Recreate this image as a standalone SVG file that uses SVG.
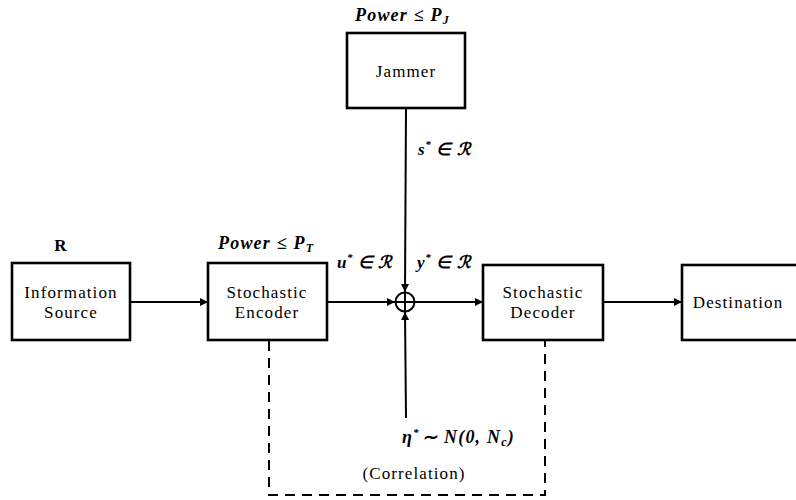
<svg xmlns="http://www.w3.org/2000/svg" width="796" height="500" viewBox="0 0 796 500">
<style>
.box{fill:#fff;stroke:#000;stroke-width:2.6}
.lbl{font-family:"Liberation Serif","Times New Roman",serif;font-size:17px;letter-spacing:1.1px;fill:#000;text-anchor:middle}
.math{font-family:"Liberation Serif","Times New Roman",serif;font-style:italic;font-weight:bold;font-size:18px;letter-spacing:1.2px;fill:#000}
.sym{font-size:17px;letter-spacing:0.6px}
.ln{stroke:#000;stroke-width:2;fill:none}
.dash{stroke:#000;stroke-width:2;fill:none;stroke-dasharray:10 7}
</style>
<defs>
<marker id="ah" viewBox="0 0 10 10" refX="10" refY="5" markerWidth="10" markerHeight="8" markerUnits="userSpaceOnUse" orient="auto">
<path d="M0,0 L10,5 L0,10 z" fill="#000"/>
</marker>
</defs>
<rect width="796" height="500" fill="#fff"/>
<g id="connectors">
<line class="ln" x1="130" y1="302" x2="208" y2="302" marker-end="url(#ah)"/>
<line class="ln" x1="327" y1="302" x2="395" y2="302" marker-end="url(#ah)"/>
<line class="ln" x1="415" y1="302" x2="483" y2="302" marker-end="url(#ah)"/>
<line class="ln" x1="603" y1="302" x2="682" y2="302" marker-end="url(#ah)"/>
<line class="ln" x1="406" y1="108" x2="405" y2="292" marker-end="url(#ah)"/>
<line class="ln" x1="406" y1="418" x2="405" y2="312" marker-end="url(#ah)"/>
<polyline class="dash" points="269,341 269,495 545,495 545,341"/>
</g>
<g id="sum">
<circle cx="405" cy="302" r="9.5" fill="#fff" stroke="#000" stroke-width="2"/>
<line class="ln" x1="395.5" y1="302" x2="414.5" y2="302"/>
<line class="ln" x1="405" y1="292.5" x2="405" y2="311.5"/>
</g>
<g id="jammer">
<rect class="box" x="347" y="33" width="118" height="75"/>
<text class="lbl" x="406" y="77">Jammer</text>
<text class="math" x="355" y="21">Power ≤ P<tspan font-size="12" dy="3">J</tspan></text>
</g>
<g id="source">
<rect class="box" x="12" y="263" width="118" height="77"/>
<text class="lbl" x="71" y="298">Information</text>
<text class="lbl" x="71" y="318">Source</text>
<text class="lbl" x="61" y="251" font-weight="bold">R</text>
</g>
<g id="encoder">
<rect class="box" x="208" y="263" width="119" height="77"/>
<text class="lbl" x="267" y="298">Stochastic</text>
<text class="lbl" x="267" y="318">Encoder</text>
<text class="math" x="218" y="249">Power ≤ P<tspan font-size="12" dy="3">T</tspan></text>
</g>
<g id="decoder">
<rect class="box" x="483" y="265" width="120" height="75"/>
<text class="lbl" x="543" y="298">Stochastic</text>
<text class="lbl" x="543" y="318">Decoder</text>
</g>
<g id="destination">
<rect class="box" x="682" y="265" width="130" height="75"/>
<text class="lbl" x="738" y="308">Destination</text>
</g>
<g id="labels">
<text class="math sym" x="337" y="268">u<tspan font-size="11" dy="-7">*</tspan><tspan dy="7"> ∈ ℛ</tspan></text>
<text class="math sym" x="417" y="268">y<tspan font-size="11" dy="-7">*</tspan><tspan dy="7"> ∈ ℛ</tspan></text>
<text class="math sym" x="418" y="155">s<tspan font-size="11" dy="-7">*</tspan><tspan dy="7"> ∈ ℛ</tspan></text>
<text class="math" x="402" y="443">η<tspan font-size="11" dy="-7">*</tspan><tspan dy="7" x="422">∼</tspan><tspan x="444">N(0, N</tspan><tspan font-size="12" dy="3">c</tspan><tspan dy="-3">)</tspan></text>
<text class="lbl" x="414" y="479">(Correlation)</text>
</g>
</svg>
